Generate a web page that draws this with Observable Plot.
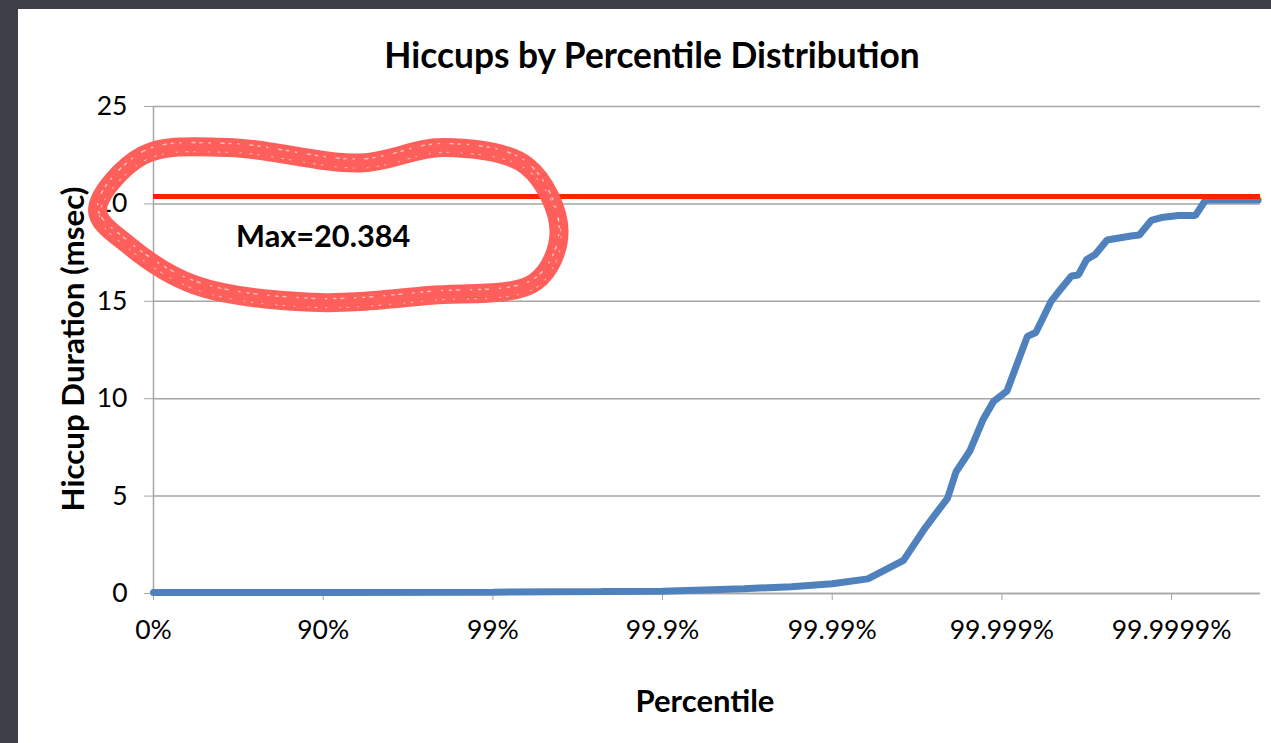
<!DOCTYPE html>
<html>
<head>
<meta charset="utf-8">
<script src="https://cdn.jsdelivr.net/npm/d3@7"></script>
<script src="https://cdn.jsdelivr.net/npm/@observablehq/plot@0.6"></script>
<style>
  html, body { margin: 0; padding: 0; }
  body { width: 1271px; height: 743px; position: relative; overflow: hidden;
         background: #3d4048; font-family: Lato, "Open Sans", sans-serif; }
  #panel { position: absolute; left: 18px; top: 9px; width: 1253px; height: 734px; background: #fff; }
  #chart { position: absolute; left: 18px; top: 9px; }
  .lbl { position: absolute; font-weight: 700; color: #000; white-space: nowrap; line-height: 1; }
  #title { left: 652px; top: 37px; font-size: 35.3px; transform: translateX(-50%); }
  #xlabel { left: 705px; top: 685px; font-size: 31px; transform: translateX(-50%); }
  #ylabel { left: 73px; top: 349px; font-size: 31.3px; transform: translate(-50%, -50%) rotate(-90deg); }
</style>
</head>
<body>
<div id="panel"></div>
<div id="chart"></div>
<div class="lbl" id="title">Hiccups by Percentile Distribution</div>
<div class="lbl" id="xlabel">Percentile</div>
<div class="lbl" id="ylabel">Hiccup Duration (msec)</div>
<script>
// Percentile position expressed as number of "nines": -log10(1 - p)
const nines = [0, 1, 2, 2.64, 3, 3.48, 3.76, 4.0, 4.21, 4.42, 4.55, 4.68, 4.73, 4.81, 4.89, 4.95, 5.03, 5.15, 5.20, 5.29, 5.33, 5.41, 5.45, 5.50, 5.55, 5.62, 5.76, 5.81, 5.88, 5.94, 6.04, 6.14, 6.20, 6.51];
// Hiccup duration (msec) at each position
const hiccupMsec = [0.05, 0.05, 0.07, 0.1, 0.12, 0.25, 0.35, 0.5, 0.75, 1.7, 3.4, 4.9, 6.25, 7.3, 8.95, 9.85, 10.4, 13.2, 13.4, 15.0, 15.45, 16.3, 16.35, 17.15, 17.4, 18.15, 18.35, 18.4, 19.15, 19.3, 19.4, 19.4, 20.2, 20.2];
const maxHiccup = 20.384;

const xTickValues = [0, 1, 2, 3, 4, 5, 6];
const xTickLabels = ["0%", "90%", "99%", "99.9%", "99.99%", "99.999%", "99.9999%"];
const yTickValues = [0, 5, 10, 15, 20, 25];

// Hand-drawn annotation loop around the max label (data units: nines, msec)
const loopX = [-0.33, -0.06, 0.44, 1.22, 1.71, 2.2, 2.39, 2.25, 1.62, 0.93, 0.24, -0.15];
const loopY = [19.66, 22.5, 22.9, 22.1, 22.9, 21.95, 18.62, 16.0, 15.3, 14.95, 15.85, 17.9];
const annotationPos = {x: 1.0, y: 18.27};

const series = nines.map((n, i) => ({n, v: hiccupMsec[i]}));
const loop = loopX.map((x, i) => ({x, y: loopY[i]}));

const plot = Plot.plot({
  width: 1253,
  height: 734,
  marginLeft: 135,
  marginTop: 97,
  marginRight: 11,
  marginBottom: 150,
  style: {background: "transparent", fontFamily: "Lato, 'Open Sans', sans-serif", color: "#000", overflow: "visible"},
  x: {domain: [0, 6.524]},
  y: {domain: [0, 25]},
  marks: [
    Plot.gridY(yTickValues, {stroke: "#a6a6a6", strokeOpacity: 1, strokeWidth: 1.5}),
    Plot.ruleX([0], {stroke: "#a6a6a6", strokeWidth: 1.5}),
    Plot.ruleY([0], {stroke: "#a6a6a6", strokeWidth: 1.5}),
    Plot.axisY({ticks: yTickValues, tickSize: 9, tickPadding: 17, stroke: "#a6a6a6", fill: "#000", fontSize: 26.5, label: null}),
    Plot.axisX({ticks: xTickValues, tickFormat: (d) => xTickLabels[d], tickSize: 7, tickPadding: 20, stroke: "#a6a6a6", fill: "#000", fontSize: 26.5, label: null}),
    Plot.line(series, {x: "n", y: "v", stroke: "#4f81bd", strokeWidth: 7, strokeLinejoin: "miter"}),
    Plot.ruleY([maxHiccup], {stroke: "#ff2200", strokeWidth: 5}),
    Plot.line(loop, {x: "x", y: "y", curve: "catmull-rom-closed", stroke: "#ff5f5a", strokeWidth: 19}),
    Plot.line(loop, {x: "x", y: "y", curve: "catmull-rom-closed", stroke: "#ffffff", strokeOpacity: 0.6, strokeWidth: 1.5, strokeDasharray: "2 7 1 11 3 5", dy: -4}),
    Plot.line(loop, {x: "x", y: "y", curve: "catmull-rom-closed", stroke: "#ffffff", strokeOpacity: 0.5, strokeWidth: 1.2, strokeDasharray: "1 9 2 6 1 13", dy: 5, dx: 2}),
    Plot.text([annotationPos], {x: "x", y: "y", text: () => `Max=${maxHiccup}`, fontSize: 30.7, fontWeight: "bold", fill: "#000"})
  ]
});
document.getElementById("chart").appendChild(plot);
</script>
</body>
</html>
